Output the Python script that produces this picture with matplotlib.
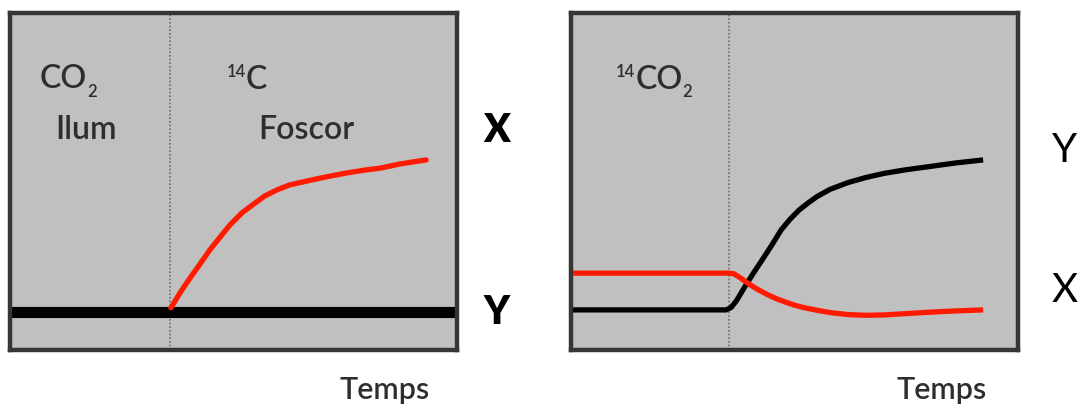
import matplotlib
matplotlib.use("Agg")
import matplotlib.pyplot as plt

plt.rcParams['font.family'] = ['Lato', 'DejaVu Sans']

# Panel A: dark period after light, 14C label
switch_a = 35.8
x_a_level = [0, 100]
y_a_level = [11.3, 11.3]
t_a_red = [36.0, 38.0, 40.3, 42.5, 44.7, 47.0, 49.2, 51.9, 54.8, 57.0, 59.7,
           62.6, 67.3, 71.6, 75.2, 79.4, 83.0, 87.2, 93.1]
v_a_red = [12.5, 16.9, 21.4, 25.5, 29.7, 33.5, 37.1, 40.7, 43.6, 45.7, 47.5,
           49.0, 50.4, 51.6, 52.5, 53.4, 54.0, 55.2, 56.4]

# Panel B: 14CO2 pulse then chase
switch_b = 35.3
t_b_red = [0, 35.3, 36.5, 38.0, 40.0, 42.0, 44.0, 46.0, 48.0, 50.0, 52.0, 55.0,
           58.0, 62.0, 66.0, 70.0, 75.0, 80.0, 86.0, 92.2]
v_b_red = [22.8, 22.8, 22.6, 21.3, 19.4, 17.8, 16.4, 15.2, 14.2, 13.3, 12.6, 11.8,
           11.1, 10.5, 10.3, 10.4, 10.8, 11.2, 11.6, 11.9]
t_b_black = [0, 34.7, 35.8, 37.0, 39.4, 41.0, 43.2, 45.0, 47.0, 49.0, 51.0, 53.0,
             55.0, 58.0, 62.0, 66.0, 70.0, 75.0, 80.0, 86.0, 92.2]
v_b_black = [11.9, 11.9, 12.6, 14.6, 19.9, 23.2, 27.6, 31.3, 35.6, 38.8, 41.5, 43.6,
             45.5, 47.7, 49.7, 51.2, 52.4, 53.5, 54.4, 55.5, 56.4]

W, H = 1080, 408
fig = plt.figure(figsize=(W / 100, H / 100), dpi=100)
fig.patch.set_facecolor('white')

def px(x, y):
    return x / W, 1 - y / H

def make_panel(left_px):
    ax = fig.add_axes([left_px / W, (H - 350) / H, 447 / W, 337 / H])
    ax.set_xlim(0, 100)
    ax.set_ylim(0, 100)
    ax.set_facecolor('#c0c0c0')
    for s in ax.spines.values():
        s.set_color('#363636')
        s.set_linewidth(3.2)
    ax.set_xticks([])
    ax.set_yticks([])
    return ax

ax1 = make_panel(10)
ax1.axvline(switch_a, color='#6e6e6e', lw=1.2, ls=(0, (1, 1.2)))
ax1.plot(x_a_level, y_a_level, color='black', lw=8, solid_capstyle='butt')
ax1.plot(t_a_red, v_a_red, color='#ff1a00', lw=3.8, solid_capstyle='round', solid_joinstyle='round')

ax2 = make_panel(571)
ax2.axvline(switch_b, color='#6e6e6e', lw=1.2, ls=(0, (1, 1.2)))
ax2.plot(t_b_black, v_b_black, color='black', lw=3.8, solid_capstyle='butt', solid_joinstyle='round')
ax2.plot(t_b_red, v_b_red, color='#ff1a00', lw=3.8, solid_capstyle='butt', solid_joinstyle='round')

txt = '#2e2e2e'
lab = dict(color=txt, fontsize=23, ha='center', va='center', fontweight='semibold')
small = dict(color=txt, fontsize=12, ha='center', va='center', fontweight='semibold')

# CO2 / Ilum
fig.text(*px(63, 79), 'CO', **lab)
fig.text(*px(92, 92), '2', **small)
fig.text(*px(86, 130), 'Ilum', **lab)
# 14C / Foscor
fig.text(*px(236, 72), '14', **small)
fig.text(*px(256, 80), 'C', **lab)
fig.text(*px(306, 130), 'Foscor', **lab)
# 14CO2
fig.text(*px(625, 72), '14', **small)
fig.text(*px(659, 80), 'CO', **lab)
fig.text(*px(687, 92), '2', **small)

fig.text(*px(497, 130), 'X', fontsize=28, fontweight='heavy', ha='center', va='center', color='black')
fig.text(*px(497, 313), 'Y', fontsize=28, fontweight='heavy', ha='center', va='center', color='black')
fig.text(*px(1065, 150), 'Y', fontsize=29, ha='center', va='center', color='black')
fig.text(*px(1065, 290), 'X', fontsize=29, ha='center', va='center', color='black')

fig.text(*px(385, 390), 'Temps', color=txt, fontsize=22, ha='center', va='center', fontweight='semibold')
fig.text(*px(942, 390), 'Temps', color=txt, fontsize=22, ha='center', va='center', fontweight='semibold')

fig.savefig('out.png', dpi=100, facecolor='white')
